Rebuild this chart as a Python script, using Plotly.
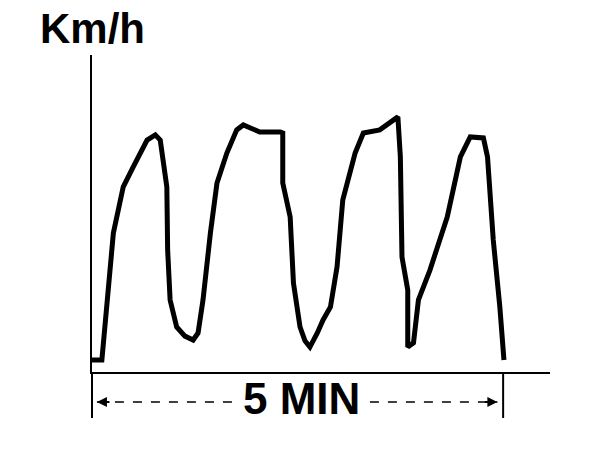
import plotly.graph_objects as go

# time in minutes, speed in km/h (arbitrary scale, no ticks in original)
time_min = [0.0, 0.12, 0.26, 0.38, 0.50, 0.67, 0.77, 0.83, 0.91, 0.92, 0.95, 1.03, 1.13, 1.23,
            1.29, 1.35, 1.44, 1.52, 1.64, 1.76, 1.84, 2.04, 2.29, 2.32, 2.32, 2.41, 2.45, 2.53,
            2.59, 2.65, 2.74, 2.81, 2.90, 2.98, 3.05, 3.20, 3.30, 3.50, 3.72, 3.75, 3.77, 3.84,
            3.84, 3.91, 3.97, 4.11, 4.32, 4.48, 4.60, 4.76, 4.81, 4.88, 4.96, 5.01]
speed_kmh = [4.6, 4.6, 53.5, 71.2, 78.8, 89.2, 91.2, 89.2, 71.2, 46.9, 27.7, 17.3, 13.8, 12.3,
             15.0, 27.7, 53.5, 72.7, 84.2, 93.1, 95.0, 92.3, 92.3, 91.9, 72.7, 59.6, 34.2, 17.3,
             12.0, 9.6, 15.0, 20.0, 25.0, 40.4, 66.2, 84.2, 91.9, 93.1, 98.1, 82.7, 44.2, 31.5,
             9.6, 11.2, 27.7, 39.2, 59.6, 82.7, 90.4, 90.0, 82.7, 50.8, 25.0, 4.6]

y_label = "Km/h"
span_label = "5 MIN"
span_minutes = 5.0

fig = go.Figure()
fig.add_trace(go.Scatter(x=time_min, y=speed_kmh, mode="lines",
                         line=dict(color="black", width=5), hoverinfo="skip"))

FONT = "Liberation Sans, Arial, sans-serif"

fig.update_layout(
    width=608, height=466,
    margin=dict(l=92, r=58, t=55, b=94),
    paper_bgcolor="white", plot_bgcolor="white",
    showlegend=False,
    xaxis=dict(range=[0, 5.57], showline=True, linecolor="black", linewidth=2,
               showgrid=False, zeroline=False, showticklabels=False, ticks=""),
    yaxis=dict(range=[0, 121.9], showline=True, linecolor="black", linewidth=2,
               showgrid=False, zeroline=False, showticklabels=False, ticks=""),
)

# y axis extension below the x axis and right span tick
fig.add_shape(type="line", xref="paper", yref="paper", x0=0, x1=0, y0=0, y1=-0.145,
              line=dict(color="black", width=2))
fig.add_shape(type="line", xref="x", yref="paper", x0=span_minutes, x1=span_minutes,
              y0=0, y1=-0.145, line=dict(color="black", width=2))

# dashed span lines
fig.add_shape(type="line", xref="x", yref="paper", x0=0.06, x1=1.72, y0=-0.095, y1=-0.095,
              line=dict(color="black", width=1.5, dash="dash"))
fig.add_shape(type="line", xref="x", yref="paper", x0=3.38, x1=4.93, y0=-0.095, y1=-0.095,
              line=dict(color="black", width=1.5, dash="dash"))
# arrowheads
fig.add_annotation(x=0.06, y=-0.095, xref="x", yref="paper", ax=14, ay=0, text="",
                   showarrow=True, arrowhead=2, arrowsize=1, arrowwidth=2, arrowcolor="black")
fig.add_annotation(x=4.93, y=-0.095, xref="x", yref="paper", ax=-14, ay=0, text="",
                   showarrow=True, arrowhead=2, arrowsize=1, arrowwidth=2, arrowcolor="black")

fig.add_annotation(x=2.55, y=-0.083, xref="x", yref="paper", text="<b>" + span_label + "</b>",
                   showarrow=False, xanchor="center", yanchor="middle",
                   font=dict(family=FONT, size=44, color="black"))
fig.add_annotation(x=0.0, y=1.083, xref="paper", yref="paper", text="<b>" + y_label + "</b>",
                   showarrow=False, xanchor="center", yanchor="middle",
                   font=dict(family=FONT, size=42, color="black"))

fig.write_html("out.html", config={"displayModeBar": False},
               post_script="document.body.style.margin='0';")
